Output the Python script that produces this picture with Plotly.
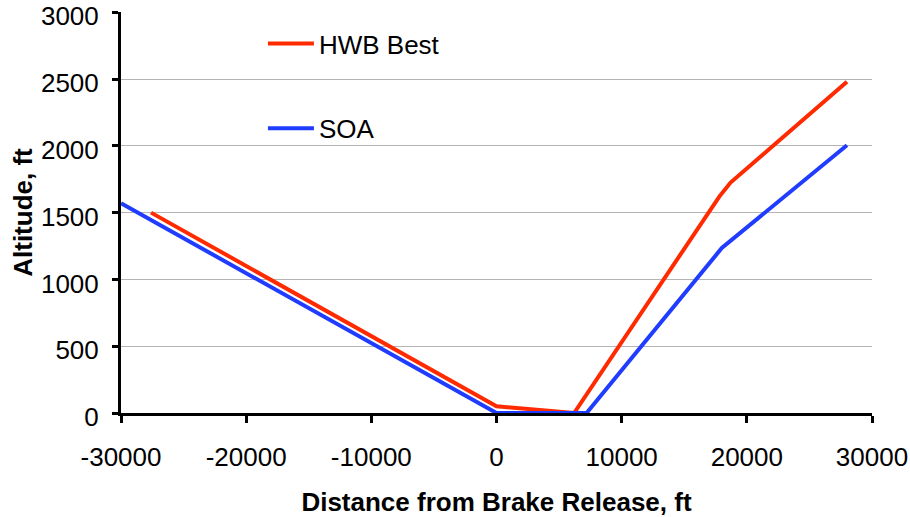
import plotly.graph_objects as go

# Takeoff / approach altitude profiles versus distance from brake release
hwb_x = [-27600, 0, 6200, 17800, 18700, 28000]
hwb_y = [1500, 50, 0, 1620, 1725, 2480]

soa_x = [-30000, 0, 7200, 18000, 28000]
soa_y = [1570, 0, 0, 1235, 2005]

x_ticks = [-30000, -20000, -10000, 0, 10000, 20000, 30000]
y_ticks = [0, 500, 1000, 1500, 2000, 2500, 3000]

RED = "#ff2a00"
BLUE = "#1f3cff"
FONT = "Liberation Sans, Arial, Helvetica, sans-serif"

fig = go.Figure()
fig.add_trace(go.Scatter(x=hwb_x, y=hwb_y, mode="lines", name="HWB Best",
                         legendgroup="hwb",
                         line=dict(color=RED, width=4)))
fig.add_trace(go.Scatter(x=soa_x, y=soa_y, mode="lines", name="SOA",
                         legendgroup="soa",
                         line=dict(color=BLUE, width=4)))

fig.update_layout(
    width=910, height=517,
    margin=dict(l=121, r=38, t=12, b=104, autoexpand=False),
    paper_bgcolor="white", plot_bgcolor="white",
    font=dict(family=FONT, size=26, color="black"),
    showlegend=True,
    legend=dict(x=0.189, y=0.980, xanchor="left", yanchor="top",
                font=dict(family=FONT, size=26, color="black"),
                bgcolor="rgba(0,0,0,0)", tracegroupgap=48,
                itemwidth=46, traceorder="grouped"),
    xaxis=dict(
        range=[-30000, 30000], tickvals=x_ticks,
        ticktext=[str(v) for v in x_ticks],
        showgrid=False, zeroline=False, automargin=False,
        showline=True, linecolor="black", linewidth=3,
        ticks="outside", ticklen=7, tickwidth=3, tickcolor="black",
        tickfont=dict(size=26), ticklabelstandoff=12,
        ticklabeloverflow="allow",
        title=dict(text="<b>Distance from Brake Release, ft</b>",
                   font=dict(size=26), standoff=22),
    ),
    yaxis=dict(
        range=[0, 3002], tickvals=y_ticks,
        showgrid=True, gridcolor="#b4b4b4", gridwidth=1,
        zeroline=False, automargin=False,
        showline=True, linecolor="black", linewidth=3,
        ticks="outside", ticklen=6, tickwidth=3, tickcolor="black",
        tickfont=dict(size=26), ticklabelstandoff=8,
        ticklabelshift=4, ticklabeloverflow="allow",
        title=dict(text="<b>Altitude, ft</b>", font=dict(size=26), standoff=1),
    ),
)

fig.write_html("out.html")
